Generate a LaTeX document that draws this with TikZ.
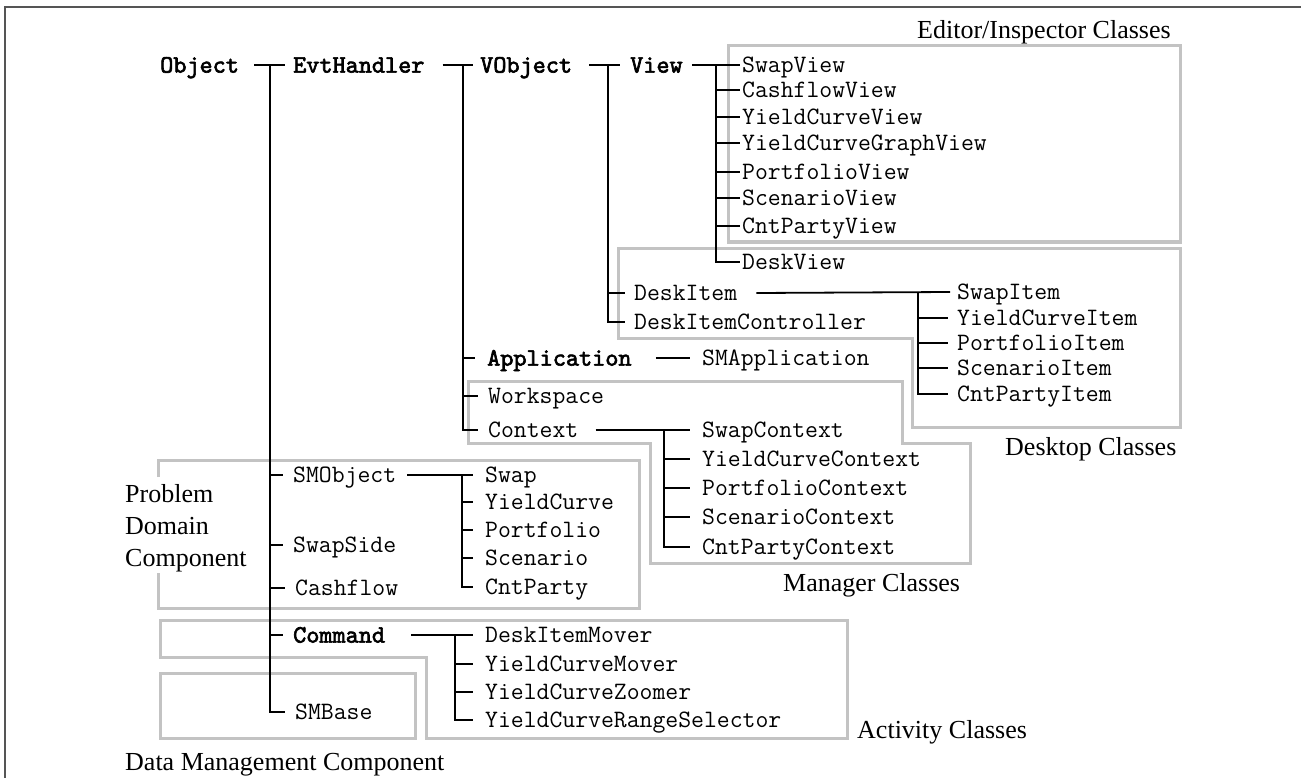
\documentclass[tikz,border=0pt]{standalone}
\usepackage{fontspec}
\setmainfont{Liberation Serif}
\newfontfamily\bmono{lmmono10-regular.otf}[FakeBold=2.5]
\definecolor{boxgray}{RGB}{195,195,195}
\definecolor{framegray}{RGB}{85,85,85}
\begin{document}
\begin{tikzpicture}[x=1pt,y=-1pt,
  cls/.style={anchor=west, inner sep=0pt, font=\ttfamily\fontsize{25}{27}\selectfont, text height=16.2pt, text depth=1pt},
  bcls/.style={cls, font=\bmono\fontsize{25}{27}\selectfont},
  lbl/.style={inner sep=0pt, anchor=base west, font=\fontsize{26}{32}\selectfont},
  tree/.style={line width=1.8pt, draw=black},
  grp/.style={line width=3pt, draw=boxgray},
  framel/.style={line width=2pt, draw=framegray}]
\useasboundingbox (0,0) rectangle (1301,778);
\draw[framel] (5,778) -- (5,7) -- (1301,7);

% group boxes
\draw[grp] (728,46) rectangle (1180,242);
\draw[grp] (618,248) -- (1180,248) -- (1180,427) -- (912,427) -- (912,338) -- (618,338) -- cycle;
\draw[grp] (468,381) -- (902,381) -- (902,443) -- (970,443) -- (970,563) -- (650,563) -- (650,443) -- (468,443) -- cycle;
\draw[grp] (158,477) -- (158,460) -- (639,460) -- (639,608) -- (158,608) -- (158,573);
\draw[grp] (160,620) -- (847,620) -- (847,738) -- (426,738) -- (426,657) -- (160,657) -- cycle;
\draw[grp] (160,673) rectangle (415,738);

% group labels
\node[lbl] (lEd) at (917,39) {Editor/Inspector Classes};
\node[lbl] (lDesk) at (1005,455) {Desktop Classes};
\node[lbl] (lMan) at (783,591) {Manager Classes};
\node[lbl] (lAct) at (857,738) {Activity Classes};
\node[lbl] (lData) at (125,770) {Data Management Component};
\node[lbl] (lPD1) at (125,502) {Problem};
\node[lbl] (lPD2) at (125,534) {Domain};
\node[lbl] (lPD3) at (125,566) {Component};

% class nodes
\node[bcls] (object) at (160,65) {Object};
\node[bcls] (evt) at (293,65) {EvtHandler};
\node[bcls] (vobj) at (480,65) {VObject};
\node[bcls] (view) at (630,65) {View};

\node[cls] (swapview) at (742,65) {SwapView};
\node[cls] (cashview) at (742,90) {CashflowView};
\node[cls] (ycview) at (742,117) {YieldCurveView};
\node[cls] (ycgview) at (742,143) {YieldCurveGraphView};
\node[cls] (portview) at (742,172) {PortfolioView};
\node[cls] (scenview) at (742,198) {ScenarioView};
\node[cls] (cntview) at (742,226) {CntPartyView};
\node[cls] (deskview) at (742,262) {DeskView};

\node[cls] (deskitem) at (634,293) {DeskItem};
\node[cls] (dic) at (634,322) {DeskItemController};

\node[cls] (swapitem) at (957,292) {SwapItem};
\node[cls] (ycitem) at (957,318) {YieldCurveItem};
\node[cls] (portitem) at (957,343) {PortfolioItem};
\node[cls] (scenitem) at (957,368) {ScenarioItem};
\node[cls] (cntitem) at (957,394) {CntPartyItem};

\node[bcls] (app) at (487,358) {Application};
\node[cls] (smapp) at (702,358) {SMApplication};
\node[cls] (workspace) at (488,396) {Workspace};
\node[cls] (context) at (488,430) {Context};

\node[cls] (swapctx) at (702,430) {SwapContext};
\node[cls] (ycctx) at (702,459) {YieldCurveContext};
\node[cls] (portctx) at (702,488) {PortfolioContext};
\node[cls] (scenctx) at (702,517) {ScenarioContext};
\node[cls] (cntctx) at (702,547) {CntPartyContext};

\node[cls] (smobject) at (293,475) {SMObject};
\node[cls] (swap) at (485,475) {Swap};
\node[cls] (yc) at (485,502) {YieldCurve};
\node[cls] (port) at (485,530) {Portfolio};
\node[cls] (scen) at (485,558) {Scenario};
\node[cls] (cnt) at (485,587) {CntParty};

\node[cls] (swapside) at (293,545) {SwapSide};
\node[cls] (cashflow) at (295,588) {Cashflow};
\node[bcls] (command) at (293,635) {Command};

\node[cls] (dimover) at (485,635) {DeskItemMover};
\node[cls] (ycmover) at (485,664) {YieldCurveMover};
\node[cls] (yczoom) at (485,692) {YieldCurveZoomer};
\node[cls] (ycrange) at (485,720) {YieldCurveRangeSelector};

\node[cls] (smbase) at (295,712) {SMBase};

% connectors
% Object subtree
\draw[tree] ([xshift=15pt]object.east) -- ([xshift=-8pt]evt.west);
\coordinate (b1) at (270,65);
\draw[tree] (b1) |- ([xshift=-10pt]smbase.west);
\foreach \n in {smobject,swapside,cashflow,command}
  \draw[tree] (b1 |- \n.west) -- ([xshift=-10pt]\n.west);

% EvtHandler subtree
\draw[tree] ([xshift=18pt]evt.east) -- ([xshift=-7pt]vobj.west);
\coordinate (b2) at (463,65);
\draw[tree] (b2) |- ([xshift=-10pt]context.west);
\draw[tree] (b2 |- app.west) -- ([xshift=-12pt]app.west);
\draw[tree] (b2 |- workspace.west) -- ([xshift=-10pt]workspace.west);

% VObject subtree
\draw[tree] ([xshift=17pt]vobj.east) -- ([xshift=-10pt]view.west);
\coordinate (b3) at (608,65);
\draw[tree] (b3) |- ([xshift=-9pt]dic.west);
\draw[tree] (b3 |- deskitem.west) -- ([xshift=-9pt]deskitem.west);

% View subtree
\draw[tree] ([xshift=9pt]view.east) -- ([xshift=-2pt]swapview.west);
\coordinate (b4) at (716,65);
\draw[tree] (b4) |- ([xshift=-2pt]deskview.west);
\foreach \n in {cashview,ycview,ycgview,portview,scenview,cntview}
  \draw[tree] (b4 |- \n.west) -- ([xshift=-2pt]\n.west);

% DeskItem subtree
\draw[tree] ([xshift=19pt]deskitem.east) -- ([xshift=-7pt]swapitem.west);
\coordinate (b5) at (918,292);
\draw[tree] (b5) |- ([xshift=-9pt]cntitem.west);
\foreach \n in {ycitem,portitem,scenitem}
  \draw[tree] (b5 |- \n.west) -- ([xshift=-9pt]\n.west);

% Application
\draw[tree] ([xshift=24pt]app.east) -- ([xshift=-12pt]smapp.west);

% Context subtree
\draw[tree] ([xshift=17pt]context.east) -- ([xshift=-12pt]swapctx.west);
\coordinate (b6) at (664,430);
\draw[tree] (b6) |- ([xshift=-12pt]cntctx.west);
\foreach \n in {ycctx,portctx,scenctx}
  \draw[tree] (b6 |- \n.west) -- ([xshift=-12pt]\n.west);

% SMObject subtree
\draw[tree] ([xshift=11pt]smobject.east) -- ([xshift=-12pt]swap.west);
\coordinate (b7) at (462,475);
\draw[tree] (b7) |- ([xshift=-12pt]cnt.west);
\foreach \n in {yc,port,scen}
  \draw[tree] (b7 |- \n.west) -- ([xshift=-12pt]\n.west);

% Command subtree
\draw[tree] ([xshift=26pt]command.east) -- ([xshift=-12pt]dimover.west);
\coordinate (b8) at (455,635);
\draw[tree] (b8) |- ([xshift=-12pt]ycrange.west);
\foreach \n in {ycmover,yczoom}
  \draw[tree] (b8 |- \n.west) -- ([xshift=-12pt]\n.west);
\end{tikzpicture}
\end{document}
